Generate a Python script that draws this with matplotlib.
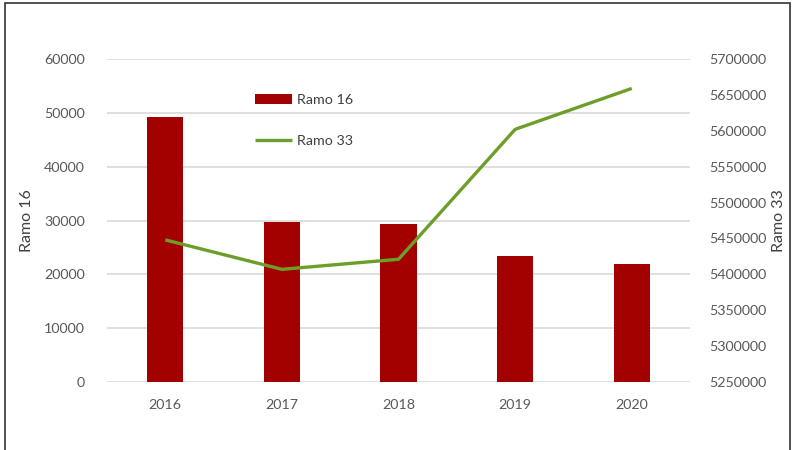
import matplotlib.pyplot as plt
from matplotlib.patches import Rectangle
from matplotlib.ticker import FixedLocator, StrMethodFormatter

years = ["2016", "2017", "2018", "2019", "2020"]
ramo16 = [49200, 29700, 29350, 23400, 22000]
ramo33 = [5448000, 5407000, 5421000, 5602000, 5659000]
left_ticks = [0, 10000, 20000, 30000, 40000, 50000, 60000]
right_ticks = [5250000, 5300000, 5350000, 5400000, 5450000, 5500000,
               5550000, 5600000, 5650000, 5700000]

plt.rcParams['font.family'] = ['Lato', 'DejaVu Sans']
gray = '#595959'

fig = plt.figure(figsize=(7.93, 4.5), dpi=100)
ax = fig.add_axes([0.1349, 0.1511, 0.7353, 0.7178])
x = range(len(years))

ax.bar(x, ramo16, width=0.31, color='#A30000', label='Ramo 16', zorder=2)
ax.set_xlim(-0.5, 4.5)
ax.set_ylim(0, 60000)
ax.yaxis.set_major_locator(FixedLocator(left_ticks))
ax.yaxis.set_major_formatter(StrMethodFormatter('{x:.0f}'))
ax.grid(axis='y', color='#D9D9D9', linewidth=1.2, zorder=0)
ax.set_axisbelow(True)
ax.set_xticks(list(x))
ax.set_xticklabels(years)
ax.tick_params(axis='both', length=0, labelsize=10.3, colors=gray)
ax.tick_params(axis='y', pad=16)
ax.tick_params(axis='x', pad=12)
ax.set_ylabel('Ramo 16', fontsize=11.5, color='#404040', labelpad=7)
for s in ax.spines.values():
    s.set_visible(False)

ax2 = ax.twinx()
ax2.plot(x, ramo33, color='#6E9E2A', linewidth=2.4, label='Ramo 33',
         solid_capstyle='butt', zorder=3)
ax2.set_ylim(5250000, 5700000)
ax2.yaxis.set_major_locator(FixedLocator(right_ticks))
ax2.yaxis.set_major_formatter(StrMethodFormatter('{x:.0f}'))
ax2.tick_params(axis='y', length=0, labelsize=10.3, colors=gray, pad=14)
ax2.set_ylabel('Ramo 33', fontsize=11.5, color='#404040', labelpad=4)
for s in ax2.spines.values():
    s.set_visible(False)

h1, l1 = ax.get_legend_handles_labels()
h2, l2 = ax2.get_legend_handles_labels()
ax2.legend(h1 + h2, l1 + l2, loc='upper left', bbox_to_anchor=(0.232, 0.93),
           frameon=False, fontsize=10.3, labelspacing=2.0, handlelength=2.6,
           handletextpad=0.3, labelcolor='#404040')

# outer frame around the chart
fig.patches.append(Rectangle((5 / 793, -0.01), 785 / 793, 1 - 3 / 450 + 0.01,
                             transform=fig.transFigure, fill=False,
                             edgecolor='#333333', linewidth=1.2))

fig.savefig('out.png', dpi=100)
